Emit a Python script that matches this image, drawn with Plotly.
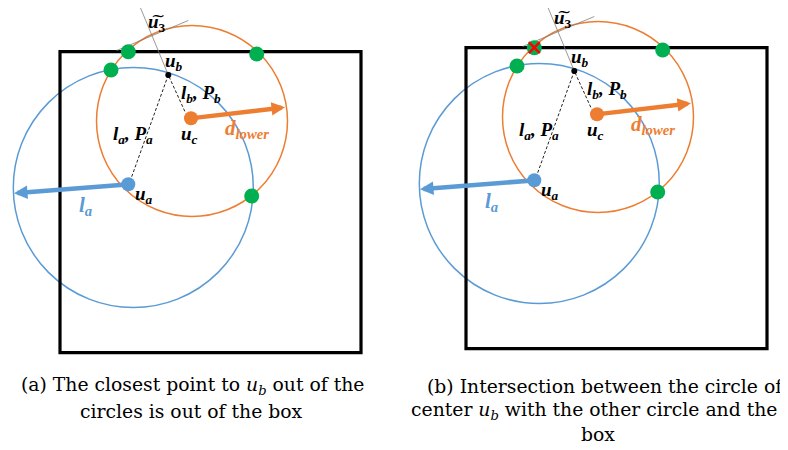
import plotly.graph_objects as go

# ---------------- data (panel-local pixel geometry of panel (a)) ----------------
panel_offset_x = [0, 406]
panel_offset_y = [0, -4]

box_corners = [60, 51.7, 361, 352.7]          # x0, y0, x1, y1
blue_circle = [133.3, 187.5, 120]             # cx, cy, r
orange_circle = [192, 121, 95.5]              # cx, cy, r

u_a = [128.3, 184.3]
u_c = [191, 118.3]
u_b = [168.3, 75]
blue_arrow_tip = [14, 193.3]
orange_arrow_tip = [285, 107.3]
dash_start_a = [131.7, 176.7]
dash_end_c = [185.7, 113.3]

green_x = [128.3, 256.7, 111, 251.7]
green_y = [51.7, 54, 70, 196]

normal_line_x = [139.3, 168.3]
normal_line_y = [5, 75]
tangent_line_x = [116.7, 188.3]
tangent_line_y = [50.5, 20.5]

label_texts = ["<b><i>u</i><sub><i>b</i></sub></b>",
               "<b><i>l</i><sub><i>b</i></sub><i>, P</i><sub><i>b</i></sub></b>",
               "<b><i>l</i><sub><i>a</i></sub><i>, P</i><sub><i>a</i></sub></b>",
               "<b><i>u</i><sub><i>c</i></sub></b>",
               "<b><i>u</i><sub><i>a</i></sub></b>",
               "<b><i>u</i><sub>3</sub></b>"]
label_x = [174, 200.7, 133.3, 189, 144, 157]
label_y = [61.7, 94, 135, 135, 195, 23]

tilde_text = "~"
tilde_pos = [157.5, 14.5]

d_lower_label = "<b><i>d</i><sub><i>lower</i></sub></b>"
d_lower_pos = [246.7, 129]
l_a_label = "<b><i>l</i><sub><i>a</i></sub></b>"
l_a_pos = [85.7, 205.8]

red_cross_panel_b = [128.3, 51.7]

caption_lines = ["(a) The closest point to <i>u</i><sub><i>b</i></sub> out of the",
                 "circles is out of the box",
                 "(b) Intersection between the circle of",
                 "center <i>u</i><sub><i>b</i></sub> with the other circle and the",
                 "box"]
caption_x = [192.5, 191.7, 605, 594, 598]
caption_y = [386, 411, 386, 411, 434]

BLUE = "#5B9BD5"
ORANGE = "#ED7D31"
GREEN = "#00B050"
PAGE_MARGIN = 8  # default body margin of the written html page

fig = go.Figure()
shapes = []
annotations = []

for ox, oy in zip(panel_offset_x, panel_offset_y):
    # circles
    for (cx, cy, r), col in [(blue_circle, BLUE), (orange_circle, ORANGE)]:
        shapes.append(dict(type="circle", xref="x", yref="y",
                           x0=cx - r + ox, x1=cx + r + ox, y0=cy - r + oy, y1=cy + r + oy,
                           line=dict(color=col, width=1.5), layer="below"))
    # box
    shapes.append(dict(type="rect", xref="x", yref="y",
                       x0=box_corners[0] + ox, y0=box_corners[1] + oy,
                       x1=box_corners[2] + ox, y1=box_corners[3] + oy,
                       line=dict(color="black", width=3.2), layer="below"))
    # thin normal and tangent lines
    fig.add_trace(go.Scatter(x=[v + ox for v in normal_line_x], y=[v + oy for v in normal_line_y],
                             mode="lines", line=dict(color="#7f7f7f", width=0.8),
                             hoverinfo="skip", showlegend=False))
    fig.add_trace(go.Scatter(x=[v + ox for v in tangent_line_x], y=[v + oy for v in tangent_line_y],
                             mode="lines", line=dict(color="#7f7f7f", width=0.8),
                             hoverinfo="skip", showlegend=False))
    # dashed lines
    fig.add_trace(go.Scatter(x=[dash_start_a[0] + ox, u_b[0] + ox, dash_end_c[0] + ox],
                             y=[dash_start_a[1] + oy, u_b[1] + oy, dash_end_c[1] + oy],
                             mode="lines", line=dict(color="#222222", width=1, dash="3px,2px"),
                             hoverinfo="skip", showlegend=False))
    # arrows
    annotations.append(dict(x=blue_arrow_tip[0] + ox, y=blue_arrow_tip[1] + oy,
                            ax=u_a[0] + ox, ay=u_a[1] + oy, xref="x", yref="y",
                            axref="x", ayref="y", text="", showarrow=True,
                            arrowhead=2, arrowwidth=4.5, arrowsize=0.6, arrowcolor=BLUE))
    annotations.append(dict(x=orange_arrow_tip[0] + ox, y=orange_arrow_tip[1] + oy,
                            ax=u_c[0] + ox, ay=u_c[1] + oy, xref="x", yref="y",
                            axref="x", ayref="y", text="", showarrow=True,
                            arrowhead=2, arrowwidth=4.5, arrowsize=0.6, arrowcolor=ORANGE))
    # points
    fig.add_trace(go.Scatter(x=[v + ox for v in green_x], y=[v + oy for v in green_y],
                             mode="markers", marker=dict(color=GREEN, size=15, line=dict(width=0)),
                             hoverinfo="skip", showlegend=False))
    fig.add_trace(go.Scatter(x=[u_a[0] + ox], y=[u_a[1] + oy], mode="markers",
                             marker=dict(color=BLUE, size=14, line=dict(width=0)),
                             hoverinfo="skip", showlegend=False))
    fig.add_trace(go.Scatter(x=[u_c[0] + ox], y=[u_c[1] + oy], mode="markers",
                             marker=dict(color=ORANGE, size=14, line=dict(width=0)),
                             hoverinfo="skip", showlegend=False))
    fig.add_trace(go.Scatter(x=[u_b[0] + ox], y=[u_b[1] + oy], mode="markers",
                             marker=dict(color="black", size=6, line=dict(width=0)),
                             hoverinfo="skip", showlegend=False))
    # labels
    for t, lx, ly in zip(label_texts, label_x, label_y):
        annotations.append(dict(x=lx + ox, y=ly + oy, xref="x", yref="y", text=t,
                                showarrow=False, xanchor="center", yanchor="middle",
                                font=dict(family="Liberation Serif", size=19, color="black")))
    annotations.append(dict(x=tilde_pos[0] + ox, y=tilde_pos[1] + oy, xref="x", yref="y",
                            text=tilde_text, showarrow=False, xanchor="center", yanchor="middle",
                            font=dict(family="DejaVu Serif", size=17, color="black")))
    annotations.append(dict(x=d_lower_pos[0] + ox, y=d_lower_pos[1] + oy, xref="x", yref="y",
                            text=d_lower_label, showarrow=False, xanchor="center", yanchor="middle",
                            font=dict(family="Liberation Serif", size=21, color=ORANGE)))
    annotations.append(dict(x=l_a_pos[0] + ox, y=l_a_pos[1] + oy, xref="x", yref="y",
                            text=l_a_label, showarrow=False, xanchor="center", yanchor="middle",
                            font=dict(family="Liberation Serif", size=21, color=BLUE)))

# red cross on panel (b)
fig.add_trace(go.Scatter(x=[red_cross_panel_b[0] + panel_offset_x[1]],
                         y=[red_cross_panel_b[1] + panel_offset_y[1]], mode="markers",
                         marker=dict(symbol="x-thin", size=11, line=dict(color="#FF0000", width=2.5)),
                         hoverinfo="skip", showlegend=False))

# captions
for t, cx, cy in zip(caption_lines, caption_x, caption_y):
    annotations.append(dict(x=cx, y=cy, xref="x", yref="y", text=t, showarrow=False,
                            xanchor="center", yanchor="middle",
                            font=dict(family="DejaVu Serif", size=18.8, color="black")))

fig.update_layout(width=788, height=450, autosize=False,
                  margin=dict(l=0, r=0, t=0, b=0),
                  paper_bgcolor="white", plot_bgcolor="white",
                  xaxis=dict(range=[PAGE_MARGIN, 788 + PAGE_MARGIN], visible=False, fixedrange=True),
                  yaxis=dict(range=[450 + PAGE_MARGIN, PAGE_MARGIN], visible=False, fixedrange=True),
                  shapes=shapes, annotations=annotations, showlegend=False)

fig.write_html("out.html")
